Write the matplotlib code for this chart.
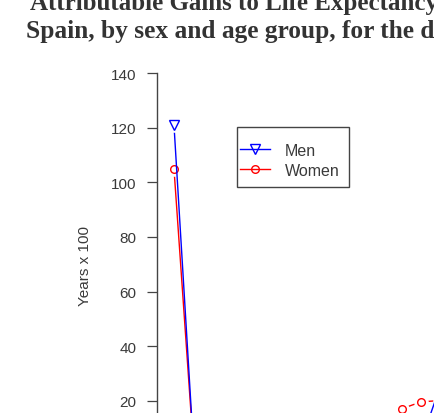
import matplotlib
matplotlib.use("Agg")
import matplotlib.pyplot as plt
from matplotlib.lines import Line2D
from matplotlib.patches import Rectangle

# ---- data (age group start, years x 100) ----
ages = [0, 5, 10, 15, 20, 25, 30, 35, 40, 45, 50, 55, 60, 65, 70, 75, 80, 85]
men = [121, 6, 4, 5, 9, 12, 10, 8, 9, 11, 12, 10, 8, 5, 25, 33, 35, 28]
women = [105, 5, 3, 3, 4, 4, 5, 6, 7, 8, 9, 6, 17, 19.5, 20, 38, 45, 40]
yticks = [0, 20, 40, 60, 80, 100, 120, 140]
title_line1 = "Attributable Gains to Life Expectancy in"
title_line2 = "Spain, by sex and age group, for the decade 1990-2000"
ylabel = "Years x 100"
legend_labels = ["Men", "Women"]

W, H = 434, 414
fig = plt.figure(figsize=(W / 100, H / 100), dpi=100)
fig.patch.set_facecolor("white")

# axes placed so that the visible part matches the cropped reference
ax = fig.add_axes([157 / W, (H - 471.3) / H, (514 - 157) / W, (471.3 - 59.2) / H])
ax.set_xlim(-4.47, 89.47)
ax.set_ylim(-5.6, 145.6)
ax.set_facecolor("none")

axcol = "#444444"
txtcol = "#3a3a3a"
for s in ["top", "right"]:
    ax.spines[s].set_visible(False)
ax.spines["left"].set_bounds(0, 140)
ax.spines["left"].set_color(axcol)
ax.spines["left"].set_linewidth(1.0)
ax.spines["bottom"].set_visible(False)
ax.set_xticks([])
ax.set_yticks(yticks)
ax.tick_params(axis="y", length=7.2, width=0.9, color=axcol, pad=7.5,
               labelsize=11, labelcolor=txtcol)
for lab in ax.get_yticklabels():
    lab.set_fontfamily("Liberation Sans")

halo_ms = 10.5
# women (red circles), type="b" style gaps via white halos
ax.plot(ages, women, color="red", lw=1.0, zorder=2)
ax.plot(ages, women, ls="none", marker="o", ms=halo_ms, mfc="white", mec="none", zorder=3)
ax.plot(ages, women, ls="none", marker="o", ms=5.5, mfc="none", mec="red", mew=1.0, zorder=4)
# men (blue down triangles)
ax.plot(ages, men, color="blue", lw=1.0, zorder=5)
ax.plot(ages, men, ls="none", marker="o", ms=halo_ms, mfc="white", mec="none", zorder=6)
ax.plot(ages, men, ls="none", marker="v", ms=6.5, mfc="none", mec="blue", mew=1.0, zorder=7)

# y label
fig.text(85 / W, 1 - 266 / H, ylabel, rotation=90, ha="center", va="center",
         fontsize=11, color=txtcol, family="Liberation Sans")

# title (two lines, bold serif)
fig.text(30 / W, 1 - 10 / H, title_line1, ha="left", va="baseline",
         fontsize=18, fontweight="bold", family="Liberation Serif", color="#333333")
fig.text(26 / W, 1 - 38 / H, title_line2, ha="left", va="baseline",
         fontsize=18.3, fontweight="bold", family="Liberation Serif", color="#333333")

# legend
handles = [
    Line2D([], [], color="blue", lw=1.0, marker="v", ms=6.5, mfc="none", mec="blue"),
    Line2D([], [], color="red", lw=1.0, marker="o", ms=5.5, mfc="none", mec="red"),
]
fs_leg = 11.5
px = fs_leg * 100 / 72
leg = fig.legend(handles, legend_labels, loc="upper left",
                 bbox_to_anchor=(240 / W, 1 - 144 / H), bbox_transform=fig.transFigure,
                 frameon=False, borderpad=0, borderaxespad=0, handlelength=30 / px,
                 handletextpad=15 / px, labelspacing=0.3,
                 prop={"family": "Liberation Sans", "size": fs_leg})
for t in leg.get_texts():
    t.set_color(txtcol)
fig.add_artist(Rectangle((237 / W, 1 - 188 / H), (349 - 237) / W, 60 / H,
                         transform=fig.transFigure, fill=False,
                         edgecolor="#444444", lw=1.0))

fig.savefig("out.png", dpi=100)
